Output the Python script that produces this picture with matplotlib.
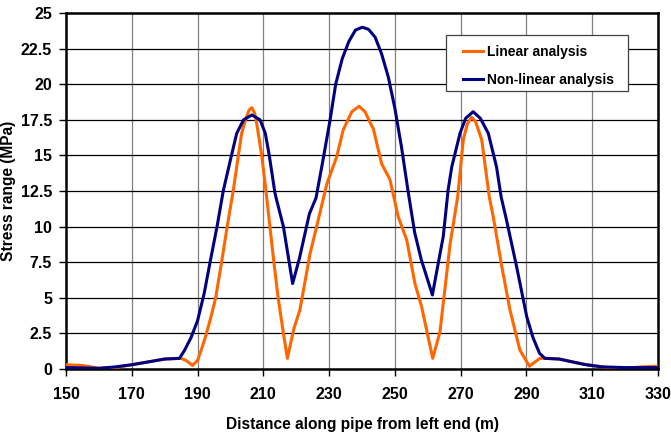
import numpy as np
import matplotlib.pyplot as plt
from matplotlib.patches import Rectangle

plt.rcParams['font.family'] = ['Liberation Sans', 'DejaVu Sans']

# Linear analysis (orange)
lin_x = [150, 155, 160, 165, 170, 175, 180, 185, 186.5, 188.5, 190, 191.5, 192.7, 194,
         195.5, 197.3, 199, 200.9, 202.4, 203.4, 204.7, 205.7, 206.5, 207.3, 207.8, 209.5,
         210.8, 212, 213.2, 214.5, 216.1, 217.3, 219.3, 221.1, 224.2, 226, 229.3, 232.3,
         234.3, 236.9, 239.1, 240.9, 242.9, 243.4, 246, 248.5, 251, 253.6, 256.1, 258.1,
         261.5, 263.7, 266.8, 269.1, 270.8, 272, 273.3, 274.5, 276.4, 278.7, 279.9, 282.5,
         285, 288, 290.9, 294.1, 296, 300, 305, 310, 315, 320, 325, 330]
lin_y = [0.3, 0.25, 0.05, 0.1, 0.3, 0.5, 0.7, 0.75, 0.6, 0.25, 0.6, 1.6, 2.5, 3.6,
         5.0, 7.5, 10.0, 12.6, 15.0, 16.55, 17.6, 18.2, 18.35, 18.0, 17.5, 15.0,
         12.5, 10.0, 7.5, 5.0, 2.5, 0.75, 2.86, 4.14, 8.1, 9.8, 13.0, 14.9,
         16.8, 18.07, 18.45, 18.07, 17.1, 16.9, 14.4, 13.3, 10.7, 9.06, 6.0, 4.4,
         0.75, 2.6, 8.8, 12.1, 16.1, 17.2, 17.67, 17.4, 16.1, 12.1, 10.7, 7.2,
         4.14, 1.33, 0.2, 0.75, 0.75, 0.7, 0.45, 0.25, 0.1, 0.05, 0.15, 0.2]

# Non-linear analysis (navy)
nl_x = [150, 155, 160, 165, 170, 175, 180, 184.5, 186, 188, 190, 192, 193.8, 196, 197.8,
        199.9, 201.9, 204, 206.5, 209, 210.6, 211.8, 213.5, 213.9, 216.1, 218.9, 221, 224,
        226, 228, 230.3, 232, 234, 236, 238, 240.1, 242, 244, 246, 248, 250, 252, 254,
        256, 258, 261.4, 263, 264.7, 266.2, 267.3, 269.8, 271.5, 273.8, 276, 278.4, 280.9,
        282.3, 284, 287, 290.1, 292, 294, 295.6, 300, 304, 308, 313, 320, 330]
nl_y = [0.1, 0.08, 0.05, 0.15, 0.3, 0.5, 0.7, 0.75, 1.3, 2.2, 3.4, 5.3, 7.5, 10.1, 12.5,
        14.6, 16.55, 17.5, 17.84, 17.5, 16.55, 15.0, 12.4, 12.0, 10.0, 6.0, 7.8, 10.9,
        12.0, 14.5, 17.5, 20.0, 21.8, 23.0, 23.8, 24.0, 23.85, 23.3, 22.1, 20.5, 18.3, 15.6, 12.5,
        9.6, 7.7, 5.2, 7.2, 9.3, 12.6, 14.2, 16.55, 17.6, 18.07, 17.6, 16.55, 14.2,
        12.1, 10.4, 7.2, 3.67, 2.2, 1.1, 0.75, 0.7, 0.5, 0.3, 0.15, 0.1, 0.1]

x_ticks = np.arange(150, 331, 20)
y_ticks = np.arange(0, 25.1, 2.5)
y_labels = ['0', '2.5', '5', '7.5', '10', '12.5', '15', '17.5', '20', '22.5', '25']

fig = plt.figure(figsize=(6.71, 4.32), dpi=100)
ax = fig.add_axes([0.0984, 0.1458, 0.8822, 0.8241])

for xv in x_ticks[1:-1]:
    ax.axvline(xv, color='#808080', linewidth=0.9, zorder=1)
for yv in y_ticks[1:-1]:
    ax.axhline(yv, color='black', linewidth=0.9, zorder=1)

ax.plot(lin_x, lin_y, color='#FF6600', linewidth=2.2, label='Linear analysis', zorder=3)
ax.plot(nl_x, nl_y, color='#000080', linewidth=2.2, label='Non-linear analysis', zorder=3)

ax.set_xlim(150, 330)
ax.set_ylim(0, 25)
ax.set_xticks(x_ticks)
ax.set_yticks(y_ticks)
ax.set_yticklabels(y_labels)
for lab in ax.get_xticklabels() + ax.get_yticklabels():
    lab.set_fontweight('bold')
    lab.set_fontsize(11.5)
ax.tick_params(direction='out', length=5, width=1)
ax.tick_params(axis='x', pad=8)
ax.tick_params(axis='y', pad=5)
for s in ax.spines.values():
    s.set_linewidth(1.8)
    s.set_color('black')

ax.set_xlabel('Distance along pipe from left end (m)', fontsize=11.2, fontweight='bold', labelpad=11)
ax.set_ylabel('Stress range (MPa)', fontsize=11.2, fontweight='bold')
ax.yaxis.set_label_coords(-0.0845, 0.5)

# legend box drawn separately so padding matches the original
ax.add_patch(Rectangle((0.642, 0.781), 0.307, 0.157, transform=ax.transAxes,
                       facecolor='white', edgecolor='#404040', linewidth=0.9, zorder=4))
leg = ax.legend(loc='center left', bbox_to_anchor=(0.6706, 0.851), frameon=False,
                borderpad=0, borderaxespad=0, handlelength=1.45, handletextpad=0.25,
                labelspacing=1.0, prop={'weight': 'bold', 'size': 10})
leg.set_zorder(5)

fig.savefig('out.png', dpi=100)
